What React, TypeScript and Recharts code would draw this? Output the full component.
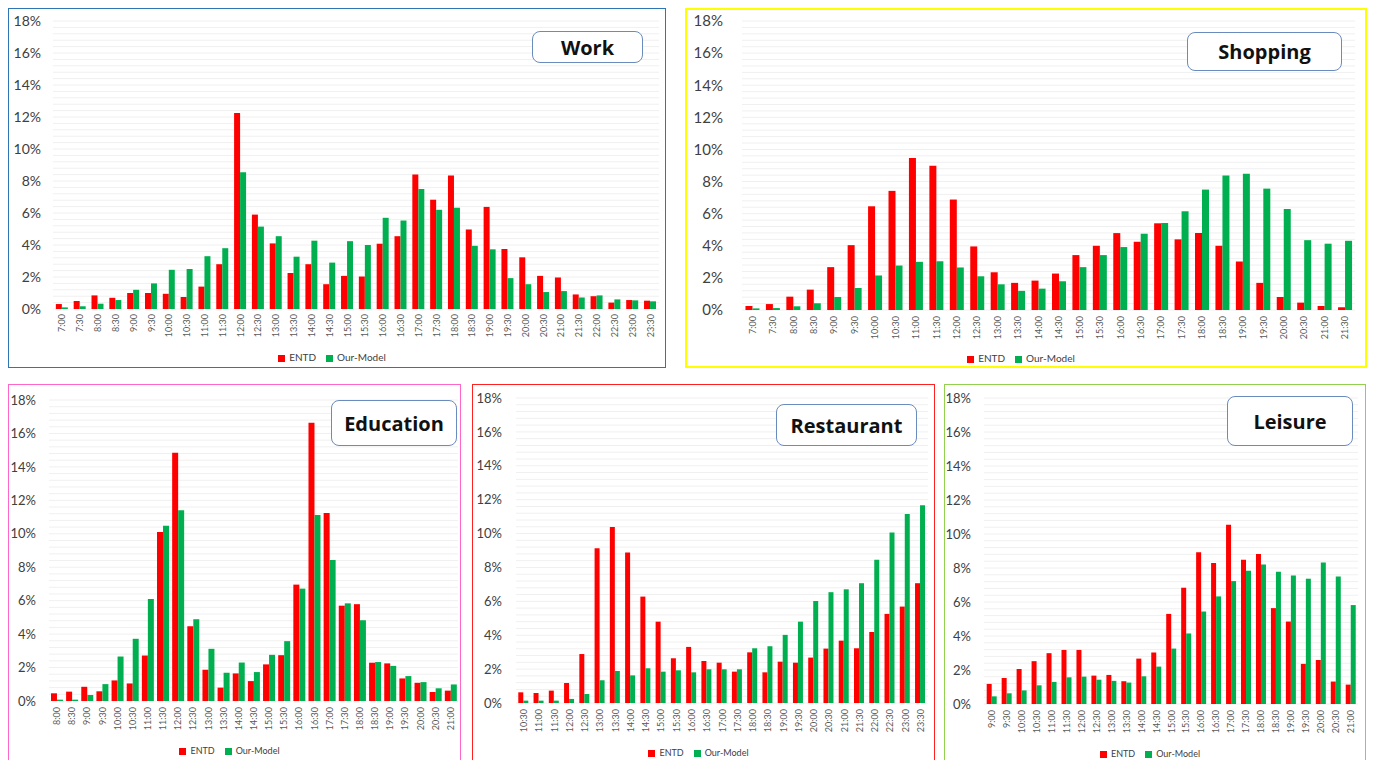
import React from 'react';
import { BarChart, Bar, XAxis, YAxis, CartesianGrid, Legend } from 'recharts';

// ---------- DATA ----------
const workTimes = ['7:00','7:30','8:00','8:30','9:00','9:30','10:00','10:30','11:00','11:30','12:00','12:30','13:00','13:30','14:00','14:30','15:00','15:30','16:00','16:30','17:00','17:30','18:00','18:30','19:00','19:30','20:00','20:30','21:00','21:30','22:00','22:30','23:00','23:30'];
const workEntd = [0.31,0.5,0.85,0.7,1.0,1.0,0.95,0.75,1.4,2.8,12.25,5.9,4.1,2.25,2.8,1.55,2.07,2.03,4.08,4.55,8.4,6.83,8.35,4.97,6.38,3.75,3.23,2.07,1.97,0.91,0.8,0.4,0.56,0.52];
const workModel = [0.1,0.17,0.33,0.56,1.2,1.6,2.45,2.5,3.3,3.8,8.55,5.15,4.55,3.27,4.27,2.9,4.24,4.0,5.7,5.53,7.5,6.2,6.33,3.95,3.73,1.93,1.55,1.06,1.12,0.72,0.85,0.6,0.54,0.48];

const shopTimes = ['7:00','7:30','8:00','8:30','9:00','9:30','10:00','10:30','11:00','11:30','12:00','12:30','13:00','13:30','14:00','14:30','15:00','15:30','16:00','16:30','17:00','17:30','18:00','18:30','19:00','19:30','20:00','20:30','21:00','21:30'];
const shopEntd = [0.25,0.37,0.83,1.27,2.67,4.04,6.46,7.42,9.46,8.98,6.88,3.96,2.35,1.69,1.83,2.27,3.42,4.0,4.79,4.25,5.4,4.4,4.79,4.0,3.02,1.69,0.81,0.46,0.25,0.17];
const shopModel = [0.1,0.12,0.23,0.42,0.81,1.37,2.15,2.77,3.0,3.04,2.65,2.1,1.6,1.19,1.33,1.79,2.67,3.42,3.92,4.75,5.42,6.15,7.5,8.38,8.48,7.56,6.29,4.35,4.13,4.31];

const eduTimes = ['8:00','8:30','9:00','9:30','10:00','10:30','11:00','11:30','12:00','12:30','13:00','13:30','14:00','14:30','15:00','15:30','16:00','16:30','17:00','17:30','18:00','18:30','19:00','19:30','20:00','20:30','21:00'];
const eduEntd = [0.46,0.56,0.85,0.58,1.23,1.05,2.72,10.1,14.85,4.47,1.87,0.8,1.65,1.19,2.19,2.74,6.96,16.64,11.25,5.7,5.79,2.29,2.25,1.35,1.09,0.54,0.62];
const eduModel = [0.08,0.08,0.36,1.01,2.66,3.72,6.1,10.48,11.41,4.89,3.12,1.69,2.3,1.73,2.76,3.58,6.72,11.13,8.43,5.84,4.83,2.33,2.1,1.49,1.13,0.76,0.99];

const restTimes = ['10:30','11:00','11:30','12:00','12:30','13:00','13:30','14:00','14:30','15:00','15:30','16:00','16:30','17:00','17:30','18:00','18:30','19:00','19:30','20:00','20:30','21:00','21:30','22:00','22:30','23:00','23:30'];
const restEntd = [0.63,0.59,0.73,1.18,2.89,9.13,10.39,8.88,6.28,4.8,2.64,3.31,2.48,2.38,1.85,2.99,1.81,2.44,2.38,2.68,3.21,3.68,3.23,4.19,5.26,5.69,7.07];
const restModel = [0.14,0.14,0.14,0.24,0.53,1.34,1.89,1.63,2.05,1.85,1.93,1.81,1.99,1.99,1.99,3.23,3.35,4.02,4.8,6.02,6.54,6.71,7.07,8.46,10.06,11.16,11.67];

const leisTimes = ['9:00','9:30','10:00','10:30','11:00','11:30','12:00','12:30','13:00','13:30','14:00','14:30','15:00','15:30','16:00','16:30','17:00','17:30','18:00','18:30','19:00','19:30','20:00','20:30','21:00'];
const leisEntd = [1.18,1.53,2.06,2.52,2.99,3.18,3.18,1.67,1.71,1.34,2.67,3.03,5.3,6.84,8.92,8.29,10.55,8.49,8.82,5.64,4.85,2.36,2.59,1.32,1.14];
const leisModel = [0.45,0.63,0.8,1.1,1.3,1.57,1.61,1.43,1.36,1.26,1.63,2.2,3.26,4.15,5.44,6.33,7.23,7.84,8.21,7.78,7.56,7.37,8.33,7.5,5.82];

const yTicks = [0, 2, 4, 6, 8, 10, 12, 14, 16, 18];
const gridValues = [0,0.4,0.8,1.2,1.6,2,2.4,2.8,3.2,3.6,4,4.4,4.8,5.2,5.6,6,6.4,6.8,7.2,7.6,8,8.4,8.8,9.2,9.6,10,10.4,10.8,11.2,11.6,12,12.4,12.8,13.2,13.6,14,14.4,14.8,15.2,15.6,16,16.4,16.8,17.2,17.6,18];
const seriesNames = ['ENTD', 'Our-Model'];

// ---------- COMPONENTS ----------
const XTick = (props: any) => {
  const { x, y, payload, fs } = props;
  return (
    <text
      transform={`translate(${x},${y}) rotate(-90)`}
      textAnchor="end"
      dominantBaseline="central"
      fontSize={fs}
      fill="#595959"
    >
      {payload.value}
    </text>
  );
};

type PanelProps = {
  title: string;
  times: string[];
  entd: number[];
  model: number[];
  x: number; y: number; w: number; h: number;
  border: string; bw: number;
  pl: number; pr: number; pt: number; pb: number;
  yFont: number; yGap: number; xFont: number; xGap: number;
  legendY: number; legendFont: number;
  catGap: string;
  box: { x: number; y: number; w: number; h: number };
};

const Panel = (p: PanelProps) => {
  const data = p.times.map((t, i) => ({ time: t, entd: p.entd[i], model: p.model[i] }));
  return (
    <>
      <div
        style={{
          position: 'absolute', left: p.x, top: p.y, width: p.w, height: p.h,
          border: `${p.bw}px solid ${p.border}`, boxSizing: 'border-box',
        }}
      />
      <div style={{ position: 'absolute', left: p.x, top: p.y }}>
        <BarChart
          width={p.w}
          height={p.h}
          data={data}
          margin={{ top: p.pt, right: p.w - p.pr, left: 0, bottom: 0 }}
          barGap={0}
          barCategoryGap={p.catGap}
        >
          <CartesianGrid vertical={false} horizontalValues={gridValues} stroke="#F0F0F0" />
          <XAxis
            dataKey="time"
            interval={0}
            tickLine={false}
            axisLine={false}
            tickSize={0}
            tickMargin={p.xGap}
            height={p.h - p.pb}
            tick={(tp: any) => <XTick {...tp} fs={p.xFont} />}
          />
          <YAxis
            domain={[0, 18]}
            ticks={yTicks}
            width={p.pl}
            tickLine={false}
            axisLine={false}
            tickSize={0}
            tickMargin={p.yGap}
            tickFormatter={(v: number) => `${v}%`}
            tick={{ fill: '#404040', fontSize: p.yFont }}
            interval={0}
          />
          <Legend
            layout="horizontal"
            verticalAlign="middle"
            align="center"
            iconType="square"
            iconSize={7}
            wrapperStyle={{ top: p.legendY - p.y - 8, left: 0, width: p.w, fontSize: p.legendFont, lineHeight: '16px' }}
            formatter={(v: any) => <span style={{ color: '#404040' }}>{v}</span>}
          />
          <Bar dataKey="entd" name={seriesNames[0]} fill="#FF0000" isAnimationActive={false} />
          <Bar dataKey="model" name={seriesNames[1]} fill="#00B050" isAnimationActive={false} />
        </BarChart>
      </div>
      <div
        style={{
          position: 'absolute', left: p.box.x, top: p.box.y, width: p.box.w, height: p.box.h,
          border: '1.5px solid #6A8CBC', borderRadius: 8, background: '#fff', boxSizing: 'border-box',
          display: 'flex', alignItems: 'center', justifyContent: 'center',
          fontFamily: "'Open Sans', sans-serif", fontWeight: 700, fontSize: 20, color: '#111',
        }}
      >
        {p.title}
      </div>
    </>
  );
};

export default function App() {
  return (
    <div
      style={{
        position: 'fixed', left: 0, top: 0, width: 1373, height: 760, overflow: 'hidden',
        background: '#fff', fontFamily: "Lato, 'Open Sans', sans-serif",
      }}
    >
      <Panel
        title="Work" times={workTimes} entd={workEntd} model={workModel}
        x={8} y={8} w={658} h={360} border="#2E75B6" bw={1.5}
        pl={45} pr={651} pt={13} pb={301}
        yFont={14} yGap={12} xFont={9} xGap={5}
        legendY={357} legendFont={10} catGap="16%"
        box={{ x: 532, y: 31, w: 111, h: 32 }}
      />
      <Panel
        title="Shopping" times={shopTimes} entd={shopEntd} model={shopModel}
        x={685} y={8} w={682} h={360} border="#FFFF00" bw={2}
        pl={57} pr={670} pt={13} pb={302}
        yFont={15} yGap={19} xFont={9} xGap={6}
        legendY={358} legendFont={10} catGap="17%"
        box={{ x: 1187, y: 32, w: 155, h: 39 }}
      />
      <Panel
        title="Education" times={eduTimes} entd={eduEntd} model={eduModel}
        x={8} y={384} w={453} h={380} border="#FF66CC" bw={1.5}
        pl={41} pr={450} pt={16} pb={317}
        yFont={13} yGap={13} xFont={9} xGap={6}
        legendY={751} legendFont={9} catGap="13%"
        box={{ x: 331, y: 400, w: 126, h: 46 }}
      />
      <Panel
        title="Restaurant" times={restTimes} entd={restEntd} model={restModel}
        x={472} y={384} w={463} h={380} border="#FF2020" bw={1.5}
        pl={44} pr={456} pt={14} pb={319}
        yFont={13} yGap={14} xFont={9} xGap={6}
        legendY={753} legendFont={9} catGap="15%"
        box={{ x: 776, y: 404, w: 141, h: 42 }}
      />
      <Panel
        title="Leisure" times={leisTimes} entd={leisEntd} model={leisModel}
        x={944} y={384} w={422} h={380} border="#92D050" bw={1.5}
        pl={40} pr={414} pt={14} pb={320}
        yFont={13} yGap={13} xFont={9} xGap={6}
        legendY={754} legendFont={9} catGap="18%"
        box={{ x: 1227, y: 396, w: 126, h: 50 }}
      />
    </div>
  );
}
